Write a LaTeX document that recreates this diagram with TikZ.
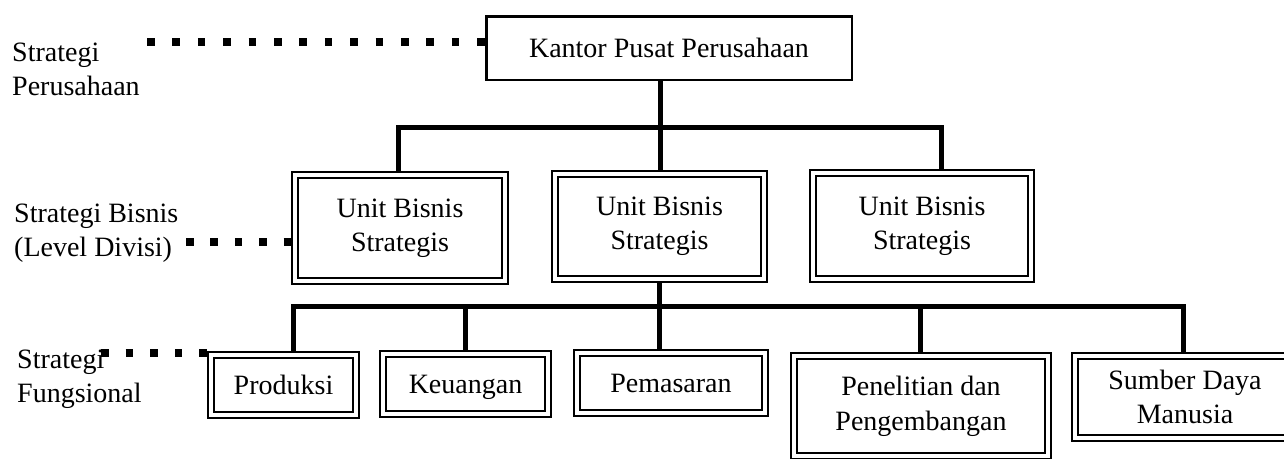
\documentclass[tikz,border=0pt]{standalone}
\usepackage{fontspec}
\setmainfont{Liberation Serif}
\begin{document}
\begin{tikzpicture}[x=1pt,y=-1pt,
  every node/.style={font=\fontsize{28}{34}\selectfont, inner sep=0pt},
  hqbox/.style={draw, line width=2.5pt, outer sep=1.25pt,
                text height=19pt, text depth=0pt},
  dbox/.style={draw, double, line width=1.8pt, double distance=4.5pt,
               outer sep=4.05pt, align=center},
  oneline/.style={text height=19pt, text depth=0pt},
  conn/.style={line width=5pt, line join=miter},
  lbl/.style={anchor=base west, align=left},
  sqdots/.style={line width=7.5pt, dash pattern=on 7.5pt off #1}]

\useasboundingbox (0,0) rectangle (1284,458);
\fill[white] (0,0) rectangle (1284,458);
\clip (0,0) rectangle (1284,458);

% headquarters
\node[hqbox, minimum width=365.5pt, minimum height=63.5pt] (kantor) at (669,48)
  {Kantor Pusat Perusahaan};

% strategic business units
\node[dbox, minimum width=209.9pt, minimum height=105.9pt] (u1) at (400,228)
  {Unit Bisnis\\Strategis};
\node[dbox, minimum width=208.9pt, minimum height=104.9pt] (u2) at (659.5,226.5)
  {Unit Bisnis\\Strategis};
\node[dbox, minimum width=217.9pt, minimum height=105.9pt] (u3) at (922,226)
  {Unit Bisnis\\Strategis};

% functional departments
\node[dbox, oneline, minimum width=144.9pt, minimum height=59.9pt] (prod) at (283.5,385)
  {Produksi};
\node[dbox, oneline, minimum width=164.9pt, minimum height=59.9pt] (keu) at (465.5,384)
  {Keuangan};
\node[dbox, oneline, minimum width=187.9pt, minimum height=59.9pt] (pem) at (671,383)
  {Pemasaran};
\node[dbox, font=\fontsize{28}{35}\selectfont, minimum width=253.9pt, minimum height=99.9pt]
  (pp) at (921,406) {Penelitian dan\\Pengembangan};
\node[dbox, minimum width=219.9pt, minimum height=81.9pt] (sdm) at (1185,397)
  {Sumber Daya\\Manusia};

% level labels (anchored on the baseline of their last line)
\node[lbl] (lcorp) at (12,95) {Strategi\\Perusahaan};
\node[lbl] (lbis) at (14,256) {Strategi Bisnis\\(Level Divisi)};
\node[lbl] (lfun) at (17,402) {Strategi\\Fungsional};

% square-dotted leaders from labels to their level
\coordinate (dotA) at (147,42);
\coordinate (dotB) at (186,242);
\coordinate (dotC) at (101,353);
\draw[sqdots=17.9pt] (dotA) -- (dotA -| kantor.west);
\draw[sqdots=16.9pt] (dotB) -- (dotB -| u1.west);
\draw[sqdots=17.1pt] (dotC) -- (dotC -| prod.west);

% connectors: headquarters to business units
\coordinate (ta) at (398,127);
\coordinate (tb) at (660,127);
\coordinate (tc) at (941,127);
\draw[conn] (u1.north -| ta) -- (ta) -- (tc) -- (u3.north -| tc);
\draw[conn] (kantor.south -| tb) -- (u2.north -| tb);

% connectors: business unit to functions
\coordinate (ba) at (293,306);
\coordinate (bb) at (465,306);
\coordinate (bc) at (659,306);
\coordinate (bd) at (920,306);
\coordinate (be) at (1183,306);
\draw[conn] (prod.north -| ba) -- (ba) -- (be) -- (sdm.north -| be);
\draw[conn] (u2.south -| bc) -- (pem.north -| bc);
\draw[conn] (bb) -- (keu.north -| bb);
\draw[conn] (bd) -- (pp.north -| bd);
\end{tikzpicture}
\end{document}
